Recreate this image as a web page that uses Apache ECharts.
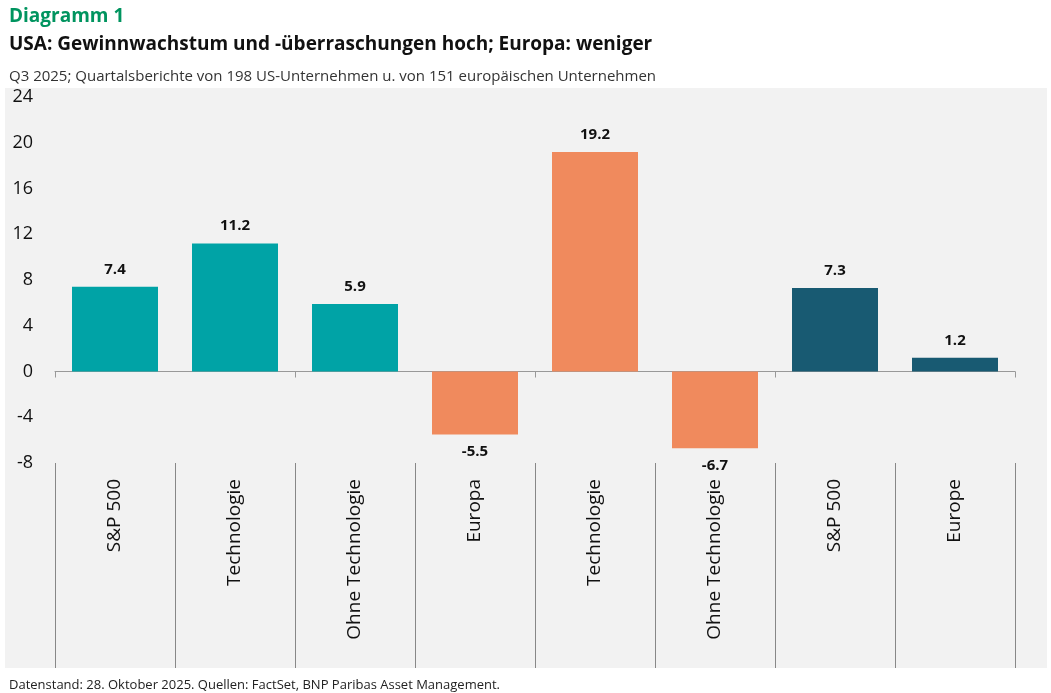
<!DOCTYPE html>
<html><head><meta charset="utf-8">
<script src="https://cdn.jsdelivr.net/npm/echarts@6/dist/echarts.min.js"></script>
<style>html,body{margin:0;padding:0;background:#fff}#c{width:1051px;height:693px}</style>
</head><body><div id="c"></div>
<script>
const categories = ['S&P 500', 'Technologie', 'Ohne Technologie', 'Europa', 'Technologie', 'Ohne Technologie', 'S&P 500', 'Europe'];
const values = [7.4, 11.2, 5.9, -5.5, 19.2, -6.7, 7.3, 1.2];
const colors = ['#00A3A6', '#00A3A6', '#00A3A6', '#F08A5D', '#F08A5D', '#F08A5D', '#185A72', '#185A72'];
const yTicks = { min: -8, max: 24, interval: 4 };

const font = '"Open Sans", Lato, sans-serif';
const chart = echarts.init(document.getElementById('c'));

chart.setOption({
  backgroundColor: '#fff',
  animation: false,
  title: [
    { text: 'Diagramm 1', left: 4, top: 2, textStyle: { color: '#00945F', fontSize: 19, fontWeight: 'bold', fontFamily: font } },
    { text: 'USA: Gewinnwachstum und -überraschungen hoch; Europa: weniger', left: 4, top: 30, textStyle: { color: '#111', fontSize: 19, fontWeight: 'bold', fontFamily: font } },
    { text: 'Q3 2025; Quartalsberichte von 198 US-Unternehmen u. von 151 europäischen Unternehmen', left: 4, top: 64, textStyle: { color: '#333', fontSize: 15, fontWeight: 'normal', fontFamily: font } },
    { text: 'Datenstand: 28. Oktober 2025. Quellen: FactSet, BNP Paribas Asset Management.', left: 4, top: 674, textStyle: { color: '#222', fontSize: 13, fontWeight: 'normal', fontFamily: font } }
  ],
  graphic: [{ type: 'rect', z: -10, shape: { x: 5, y: 88, width: 1042, height: 580 }, style: { fill: '#F2F2F2' } }],
  grid: [
    { left: 55, top: 97, width: 960, height: 366 },
    { left: 55, top: 463, width: 960, height: 205 }
  ],
  xAxis: [
    {
      gridIndex: 0, type: 'category', data: categories,
      axisLine: { onZero: true, lineStyle: { color: '#999' } },
      axisTick: { show: true, length: 6, lineStyle: { color: '#999' } },
      axisLabel: { show: false }
    },
    {
      gridIndex: 1, type: 'category', data: categories, position: 'top',
      axisLine: { show: false }, axisTick: { show: false },
      splitLine: { show: true, interval: 0, lineStyle: { color: '#888' } },
      axisLabel: { inside: true, rotate: 90, interval: 0, margin: 16, color: '#111', fontSize: 19, fontFamily: font }
    }
  ],
  yAxis: [
    {
      gridIndex: 0, type: 'value', min: yTicks.min, max: yTicks.max, interval: yTicks.interval,
      axisLine: { show: false }, axisTick: { show: false }, splitLine: { show: false },
      axisLabel: { color: '#111', fontSize: 18, margin: 22, fontFamily: font }
    },
    { gridIndex: 1, type: 'value', show: false }
  ],
  series: [{
    type: 'bar', xAxisIndex: 0, yAxisIndex: 0, barWidth: 86,
    data: values.map((v, i) => ({
      value: v,
      itemStyle: { color: colors[i] },
      label: { show: true, position: v < 0 ? 'bottom' : 'top', distance: 10, color: '#111', fontSize: 15, fontWeight: 'bold', fontFamily: font }
    }))
  }]
});
</script></body></html>
